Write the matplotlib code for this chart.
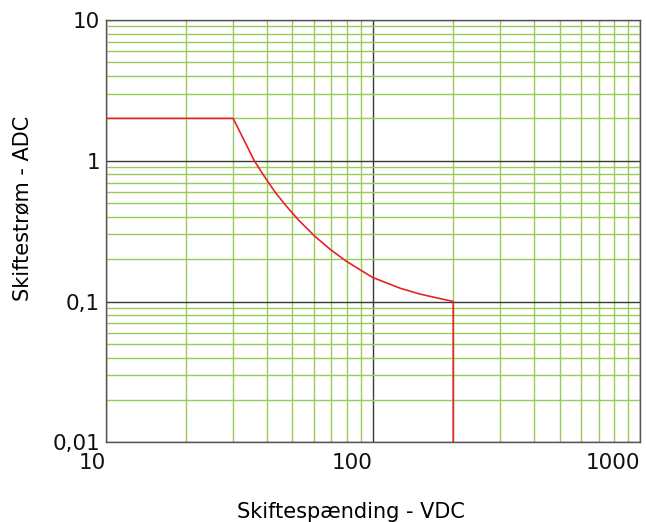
import matplotlib
matplotlib.use('Agg')
import matplotlib.pyplot as plt
from matplotlib.ticker import FixedLocator, LogLocator, NullFormatter

# breaking capacity curve
voltage = [10, 30, 36, 39.5, 43.3, 47.5, 53, 61, 69.2, 79, 89.6, 100,
           127, 150, 178, 200, 200]
current = [2, 2, 1.0, 0.76, 0.59, 0.475, 0.375, 0.288, 0.235, 0.195, 0.168, 0.148,
           0.124, 0.113, 0.105, 0.1, 0.01]

x_ticks = [10, 100, 1000]
x_labels = ['10', '100', '1000']
y_ticks = [0.01, 0.1, 1, 10]
y_labels = ['0,01', '0,1', '1', '10']


def visualizer():
    fig = plt.figure(figsize=(6.46, 5.22), dpi=100)
    ax = fig.add_axes([0.1636, 0.1527, 0.9907 - 0.1636, 0.9617 - 0.1527])

    ax.set_xscale('log')
    ax.set_yscale('log')
    ax.set_xlim(10, 1000)
    ax.set_ylim(0.01, 10)

    ax.xaxis.set_major_locator(FixedLocator(x_ticks))
    ax.yaxis.set_major_locator(FixedLocator(y_ticks))
    ax.xaxis.set_minor_locator(LogLocator(base=10, subs=range(2, 10)))
    ax.yaxis.set_minor_locator(LogLocator(base=10, subs=range(2, 10)))
    ax.xaxis.set_minor_formatter(NullFormatter())
    ax.yaxis.set_minor_formatter(NullFormatter())
    ax.set_xticklabels(x_labels, ha='right')
    ax.set_yticklabels(y_labels)

    ax.grid(which='minor', color='#97cb5a', linewidth=1.0)
    ax.grid(which='major', color='#3a3a3a', linewidth=1.0)
    ax.set_axisbelow(True)

    ax.plot(voltage, current, color='#e8202a', linewidth=1.2, zorder=3)

    for s in ax.spines.values():
        s.set_color('#555555')
        s.set_linewidth(1.0)

    ax.tick_params(which='both', length=0, labelsize=15.5, colors='#111111')
    ax.tick_params(axis='x', pad=8)
    ax.tick_params(axis='y', pad=4)

    fig.text(351 / 646, 3.5 / 522, 'Skiftespænding - VDC', fontsize=15,
             ha='center', va='baseline')
    fig.text(22 / 646, 1 - 208.5 / 522, 'Skiftestrøm - ADC', fontsize=15,
             ha='center', va='center', rotation=90)

    fig.savefig('out.png', dpi=100)


if __name__ == '__main__':
    visualizer()
